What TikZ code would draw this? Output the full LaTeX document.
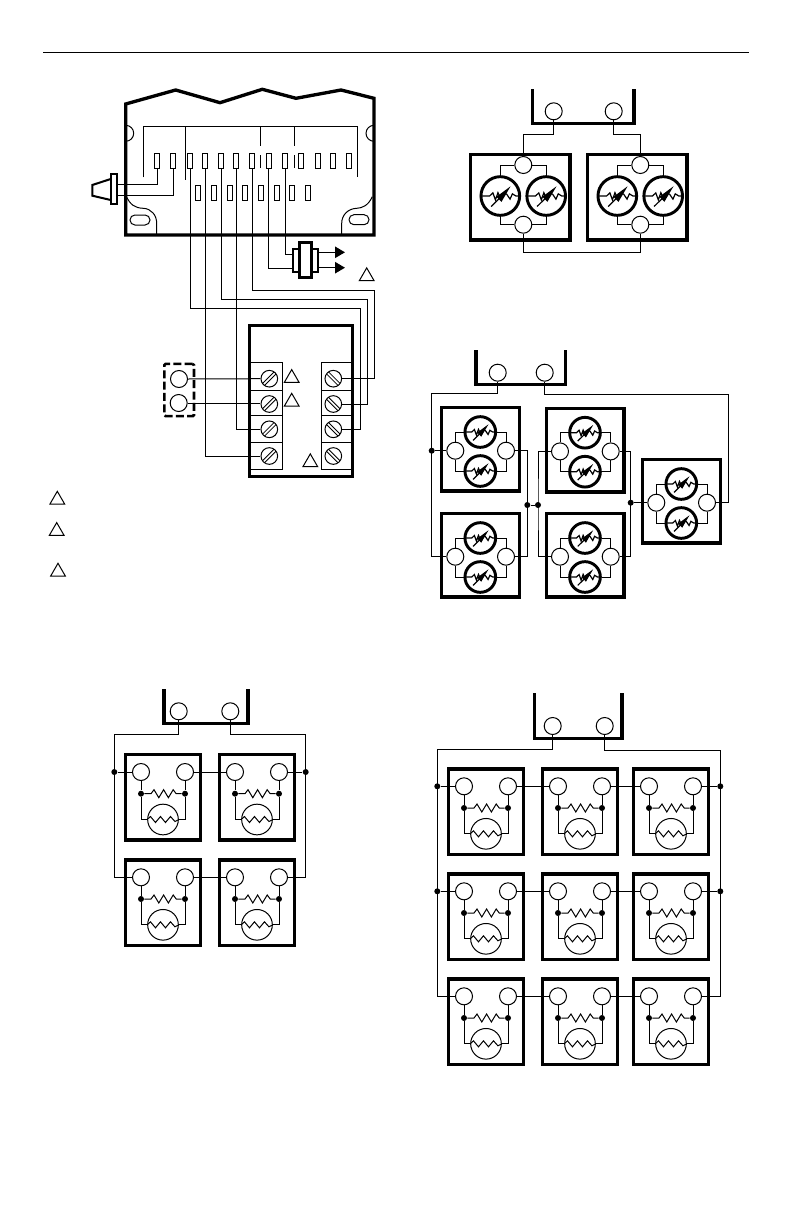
\documentclass[tikz,border=0pt]{standalone}
\usetikzlibrary{shapes.geometric,arrows.meta}

\tikzset{
  wire/.style={line width=.75pt},
  heavy/.style={line width=2.5pt},
  term/.style={draw,circle,line width=.75pt,minimum size=12.75pt,inner sep=0pt},
  bulb/.style={draw,circle,line width=.75pt,minimum size=23pt,inner sep=0pt},
  varbulb/.style={draw,circle,line width=2.2pt,inner sep=0pt},
  junct/.style={circle,fill=black,minimum size=4.5pt,inner sep=0pt},
  unitbox/.style={draw,line width=2.5pt,anchor=north west,outer sep=0pt,inner sep=0pt},
  lug/.style={draw,line width=.75pt,minimum width=3.75pt,minimum height=11pt,inner sep=0pt},
  screw/.style={draw,circle,line width=.75pt,minimum size=12.5pt,inner sep=0pt},
  slot/.style={draw,line width=.75pt,rounded corners=3.7pt,minimum width=15pt,minimum height=7.5pt,inner sep=0pt},
  tri/.style={draw,regular polygon,regular polygon sides=3,line width=.75pt,minimum size=12.75pt,inner sep=0pt},
  varmark/.pic={
    \draw[line width=.9pt] (-1,0) -- (-.55,0) -- (-.38,-.16) -- (-.25,.2) -- (-.12,-.17) -- (.05,.2)
      -- (.2,-.15) -- (.33,-.09) -- (.5,.16) -- (.62,-.11) -- (.8,0) -- (1,0);
    \draw[line width=.9pt] (-.47,.54) -- (.1,-.02);
    \fill (.53,-.5) -- (.06,.3) -- (-.2,.04) -- cycle;
  }
}

% box with two sensors side by side
\newcommand{\twinbox}[3]{
  \node[unitbox,minimum width=74.5pt,minimum height=64pt] (#1) at (#2+.7,#3+.7) {};
  \node[term] (#1t) at (#2+53.3,#3+11) {};
  \node[term] (#1b) at (#2+53.3,#3+70.7) {};
  \node[varbulb,minimum size=29pt] (#1p) at (#2+30.3,#3+42) {};
  \node[varbulb,minimum size=29pt] (#1q) at (#2+76.2,#3+42) {};
  \pic[scale=19.5] at (#1p) {varmark};
  \pic[scale=19.5] at (#1q) {varmark};
  \draw[wire] (#1t.west) -| (#1p.north);
  \draw[wire] (#1t.east) -| (#1q.north);
  \draw[wire] (#1b.west) -| (#1p.south);
  \draw[wire] (#1b.east) -| (#1q.south);
}
% box with two sensors one above the other
\newcommand{\stackbox}[3]{
  \node[unitbox,minimum width=58.2pt,minimum height=62.5pt] (#1) at (#2+.7,#3+.5) {};
  \node[term] (#1l) at (#2+14.3,#3+43.4) {};
  \node[term] (#1r) at (#2+65,#3+43.4) {};
  \node[varbulb,minimum size=23pt] (#1p) at (#2+39.3,#3+24.7) {};
  \node[varbulb,minimum size=23pt] (#1q) at (#2+39.3,#3+63.7) {};
  \pic[scale=15.5] at (#1p) {varmark};
  \pic[scale=15.5] at (#1q) {varmark};
  \draw[wire] (#1l.north) |- (#1p.west);
  \draw[wire] (#1r.north) |- (#1p.east);
  \draw[wire] (#1l.south) |- (#1q.west);
  \draw[wire] (#1r.south) |- (#1q.east);
}
% box with resistor and bulb
\newcommand{\coilunit}[3]{
  \node[unitbox,minimum width=56.25pt,minimum height=64pt] (#1) at (#2+.8,#3+.7) {};
  \node[term] (#1l) at (#2+16,#3+18) {};
  \node[term] (#1r) at (#2+60,#3+18) {};
  \node[junct] (#1a) at (#2+16,#3+39.7) {};
  \node[junct] (#1b) at (#2+60,#3+39.7) {};
  \node[bulb] (#1s) at (#2+38,#3+65.5) {};
  \draw[wire] (#1l.south) -- (#1a);
  \draw[wire] (#1r.south) -- (#1b);
  \draw[wire] (#1a) |- (#1s.west);
  \draw[wire] (#1b) |- (#1s.east);
  \draw[wire] (#1a) -- ++(10,0) -- ++(3,-4) -- ++(4.8,8) -- ++(4.8,-8) -- ++(4.8,8) -- ++(4.8,-8) -- ++(3,4) -- (#1b);
  \draw[wire] (#1s.west) -- ++(3.3,-3) -- ++(5,6) -- ++(5,-6) -- ++(5,6) -- ++(5,-6) -- ++(4.5,5) -- (#1s.east);
}

\begin{document}
\begin{tikzpicture}[x=.75pt,y=-.75pt]
  \useasboundingbox (0,0) rectangle (792,1224);
  \draw[wire] (43,52) -- (749,52);

  % controller
  \draw[line width=2.5pt] (125.7,104) -- (175.7,90) -- (220,102.7) -- (262.3,89.3) -- (296,98.3)
    -- (341,90) -- (374,98.3) -- (374,235) -- (125.7,235) -- cycle;
  \draw[wire] (125.7,125.3) arc[start angle=-90,end angle=90,radius=8];
  \draw[wire] (374,125.3) arc[start angle=-90,end angle=-270,radius=8];
  \draw[wire] (125.7,195) .. controls (130,205) and (135,208) .. (143.3,208.3) .. controls (151,208.6) and (156.7,215) .. (156.7,223.3) -- (156.7,235);
  \draw[wire] (372.3,196.7) .. controls (368,206) and (362,208) .. (356.7,208.3) .. controls (348,208.6) and (341.7,215) .. (341.7,223.3) -- (341.7,235);
  \node[slot] (hole1) at (140,220) {};
  \node[slot] (hole2) at (359,219.7) {};
  \draw[wire] (143.3,177.3) -- (143.3,126.7) -- (357.3,126.7) -- (357.3,176.7);
  \draw[wire] (185.3,126.7) -- (185.3,180);
  \draw[wire] (260.7,126.7) -- (260.7,145.7) (260.7,155) -- (260.7,168);
  \draw[wire] (294,126.7) -- (294,145.7) (294,155) -- (294,168);
  \foreach \x [count=\n] in {157.3,173,190,205.3,221,236.3,252.3,268.7,285.3,301.3,317.7,333.3,349.3}
    \node[lug] (up\n) at (\x,161.3) {};
  \foreach \x [count=\n] in {198.3,214,229.7,245.3,261,276.7,292.3,308}
    \node[lug] (lo\n) at (\x,193.3) {};

  % plug
  \draw[line width=1.5pt] (110.7,179) -- (92.3,185) -- (92.3,195.7) -- (110.7,200);
  \node[draw,line width=1.5pt,fill=white,minimum width=4.5pt,minimum height=22.5pt,inner sep=0pt] (plug) at (114,189.3) {};
  \coordinate (plugA) at (117.3,184.3);
  \coordinate (plugB) at (117.3,195.3);
  \draw[wire] (up1.south) |- (plugA);
  \draw[wire] (up2.south) |- (plugB);

  % terminal strip
  \draw[wire] (249.3,362.3) rectangle (282,469);
  \draw[wire] (321,362.3) rectangle (352.7,469);
  \foreach \y in {390,415.3,442.3}{
    \draw[wire] (249.3,\y) -- (282,\y);
    \draw[wire] (321,\y) -- (352.7,\y);
  }
  \draw[heavy] (249.3,325.3) rectangle (352.7,476.7);
  \foreach \y [count=\n] in {378.7,404,429.3,456}{
    \node[screw] (sl\n) at (269.3,\y) {};
    \node[screw] (sr\n) at (333.3,\y) {};
    \draw[line width=.6pt] (269.3,\y) ++(-4.8,6.8) -- ++(11.6,-11.6) ++(-13.6,9.6) -- ++(11.6,-11.6);
    \draw[line width=.6pt] (333.3,\y) ++(-6.8,-4.8) -- ++(11.6,11.6) ++(-9.6,-13.6) -- ++(11.6,11.6);
  }

  % wires down to the strip
  \draw[wire] (up3.south) |- (360,308.3) |- (sr3.east);
  \draw[wire] (up4.south) |- (sl4.west);
  \draw[wire] (up5.south) |- (367.3,299.3) |- (sr2.east);
  \draw[wire] (up6.south) |- (sl3.west);
  \draw[wire] (up7.south) |- (374,290) |- (sr1.east);

  % output connector
  \coordinate (outA) at (293.3,268.3);
  \coordinate (outB) at (293.3,254.3);
  \coordinate (tipA) at (345,252.3);
  \coordinate (tipB) at (345,267.7);
  \draw[wire] (up8.south) |- (outA);
  \draw[wire] (up9.south) |- (outB);
  \draw[line width=1.1pt,-{Triangle[length=7.5pt,width=8.5pt]}] (318,252.3) -- (tipA);
  \draw[line width=1.1pt,-{Triangle[length=7.5pt,width=8.5pt]}] (318,267.7) -- (tipB);
  \node[draw,line width=1.5pt,fill=white,minimum width=18.75pt,minimum height=16.75pt,inner sep=0pt] (conn) at (305.8,260.5) {};
  \node[draw,line width=2.2pt,fill=white,minimum width=9.25pt,minimum height=26pt,inner sep=0pt] (connb) at (305.5,260) {};

  % remote sensor
  \node[draw,dashed,line width=2pt,dash pattern=on 6pt off 2.5pt,rounded corners=1pt,minimum width=22.3pt,minimum height=39.2pt,inner sep=0pt] (remote) at (179.2,390) {};
  \node[term] (rema) at (179,379) {};
  \node[term] (remb) at (178.7,403) {};
  \draw[wire] (rema.east) -- (sl1.west);
  \draw[wire] (remb.east) -- (remb.east -| sl2.west);

  % notes
  \node[tri] (n1) at (366.7,276.4) {};
  \node[tri] (n2) at (291.7,378.1) {};
  \node[tri] (n3) at (291.7,401.8) {};
  \node[tri] (n4) at (310.3,462.4) {};
  \node[tri] (n5) at (57.3,499.8) {};
  \node[tri] (n6) at (56.7,531.1) {};
  \node[tri] (n7) at (58,571.8) {};

  % two boxes
  \draw[heavy] (532.3,89.3) |- (634,123.3) -- (634,89.3);
  \node[term] (ca) at (553.7,111.3) {};
  \node[term] (cb) at (613.7,111.3) {};
  \twinbox{ta}{470}{154}
  \twinbox{tb}{587}{154}
  \draw[wire] (ca.south) |- (523.3,134) -- (tat.north);
  \draw[wire] (cb.south) |- (640.3,134.3) -- (tbt.north);
  \draw[wire] (tab.south) |- (640.3,252.3) -- (tbb.south);

  % five boxes
  \draw[heavy] (476,350) |- (565.3,384.3) -- (565.3,350);
  \node[term] (da) at (497.7,372.7) {};
  \node[term] (db) at (544.7,372.7) {};
  \stackbox{ma}{441}{407.3}
  \stackbox{mb}{441}{513.3}
  \stackbox{mc}{545.7}{408}
  \stackbox{md}{545.7}{513.3}
  \stackbox{me}{642}{459.3}
  \node[junct] (ja) at (431.7,450.7) {};
  \node[junct] (jb) at (527.3,505) {};
  \node[junct] (jc) at (538,505) {};
  \node[junct] (jd) at (630.7,502.7) {};
  \draw[wire] (da.south) |- (431.7,393.3) |- (mbl.west);
  \draw[wire] (ja) -- (mal.west);
  \draw[wire] (mar.east) -| (jb.center) |- (mbr.east);
  \draw[wire] (jb) -- (jc);
  \draw[wire] (mcl.west) -| (jc.center) |- (mdl.west);
  \draw[wire] (mcr.east) -| (jd.center) |- (mdr.east);
  \draw[wire] (jd) -- (mel.west);
  \draw[wire] (db.south) |- (728.3,394) |- (mer.east);

  % four units
  \draw[heavy] (164,689.3) |- (248,723.3) -- (248,689.3);
  \node[term] (fa) at (178.7,711.3) {};
  \node[term] (fb) at (230.3,711.3) {};
  \coilunit{f1}{125}{754}
  \coilunit{f2}{219}{754}
  \coilunit{f3}{125}{859.3}
  \coilunit{f4}{219}{859.3}
  \node[junct] (jfa) at (114.3,772) {};
  \node[junct] (jfb) at (305.7,772) {};
  \draw[wire] (fa.south) |- (114.3,734.3) |- (f3l.west);
  \draw[wire] (fb.south) |- (305.7,734.3) |- (f4r.east);
  \draw[wire] (jfa) -- (f1l.west);
  \draw[wire] (f1r.east) -- (f2l.west);
  \draw[wire] (f2r.east) -- (jfb);
  \draw[wire] (f3r.east) -- (f4l.west);

  % nine units
  \draw[heavy] (534.3,693) |- (622,738.3) -- (622,693);
  \node[term] (na) at (552.7,726) {};
  \node[term] (nb) at (604.7,726) {};
  \foreach \y [count=\r] in {768.3,873.3,978.3}{
    \foreach \x [count=\c] in {448,542,633}{
      \coilunit{n\r\c}{\x}{\y}
    }
    \draw[wire] (n\r1r.east) -- (n\r2l.west);
    \draw[wire] (n\r2r.east) -- (n\r3l.west);
  }
  \node[junct] (jna) at (437.3,786.3) {};
  \node[junct] (jnb) at (720.3,786.3) {};
  \node[junct] (jnc) at (437.3,891.3) {};
  \node[junct] (jnd) at (720.3,891.3) {};
  \draw[wire] (na.south) |- (437.3,749) |- (n31l.west);
  \draw[wire] (nb.south) |- (720.3,750) |- (n33r.east);
  \draw[wire] (jna) -- (n11l.west);
  \draw[wire] (n13r.east) -- (jnb);
  \draw[wire] (jnc) -- (n21l.west);
  \draw[wire] (n23r.east) -- (jnd);
\end{tikzpicture}
\end{document}
